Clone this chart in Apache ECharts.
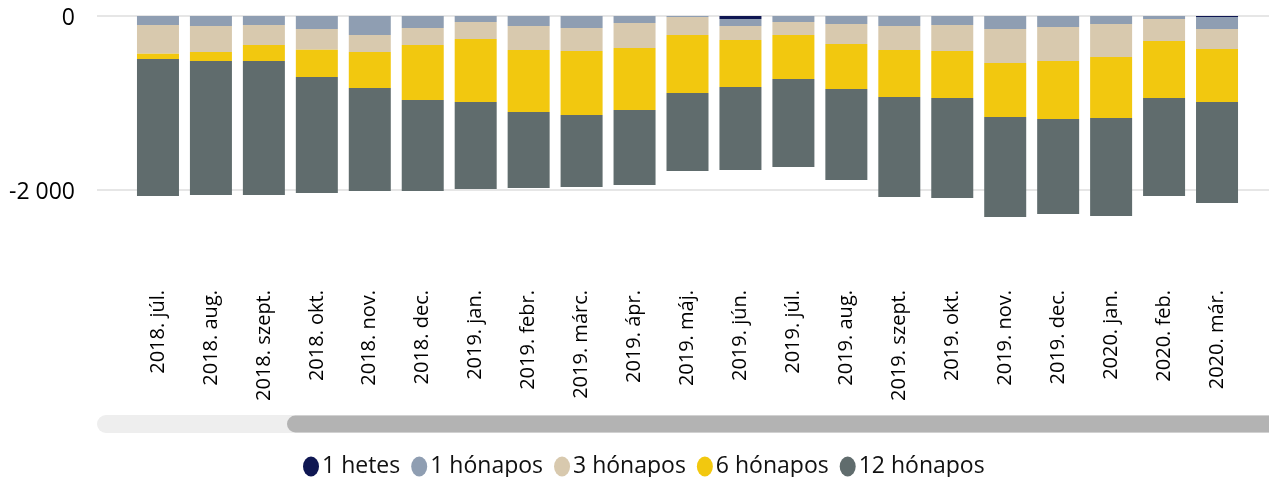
<!DOCTYPE html>
<html><head><meta charset="utf-8">
<script src="https://cdn.jsdelivr.net/npm/echarts@6/dist/echarts.min.js"></script>
<style>html,body{margin:0;padding:0;background:#fff}#c{width:1269px;height:477px}</style>
</head><body><div id="c"></div>
<script>
const categories = ['2018. júl.','2018. aug.','2018. szept.','2018. okt.','2018. nov.','2018. dec.','2019. jan.','2019. febr.','2019. márc.','2019. ápr.','2019. máj.','2019. jún.','2019. júl.','2019. aug.','2019. szept.','2019. okt.','2019. nov.','2019. dec.','2020. jan.','2020. feb.','2020. már.'];
const seriesNames = ['1 hetes','1 hónapos','3 hónapos','6 hónapos','12 hónapos'];
const week1   = [0,0,0,0,0,0,0,0,0,0,0,-34,0,0,0,0,0,0,0,0,-12];
const month1  = [-103,-115,-103,-149,-218,-138,-69,-115,-138,-80,-11,-80,-69,-92,-115,-103,-149,-126,-92,-34,-138];
const month3  = [-330,-299,-230,-238,-195,-195,-195,-276,-264,-287,-207,-161,-149,-230,-276,-299,-391,-391,-379,-253,-230];
const month6  = [-61,-103,-184,-314,-414,-632,-724,-713,-736,-713,-667,-540,-506,-517,-540,-540,-621,-667,-701,-655,-609];
const month12 = [-1575,-1540,-1540,-1333,-1184,-1046,-1000,-873,-828,-862,-897,-954,-1011,-1046,-1149,-1149,-1150,-1093,-1127,-1126,-1161];
const yTicks = [-2000, 0];
const colors = ['#0f1752','#8f9eb2','#d8c9ae','#f2c80f','#606c6d'];

const FONT = '"Open Sans", sans-serif';
const pxPerUnit = 174 / 2000;
const barGridHeight = 266;
const seriesData = [week1, month1, month3, month6, month12];

const chart = echarts.init(document.getElementById('c'), null, {renderer:'canvas'});
chart.setOption({
  animation: false,
  textStyle: {fontFamily: FONT},
  grid: [
    {left: 97, right: 0, top: 16, height: 174},
    {left: 131.5, right: 25.5, top: 16, height: barGridHeight}
  ],
  xAxis: [
    {gridIndex: 0, type: 'category', show: false, data: ['']},
    {gridIndex: 1, type: 'category', data: categories,
     axisLine: {show: false}, axisTick: {show: false},
     axisLabel: {rotate: 90, interval: 0, margin: 8, fontSize: 20, color: '#000', fontFamily: FONT}}
  ],
  yAxis: [
    {gridIndex: 0, type: 'value', min: yTicks[0], max: yTicks[1], interval: 2000,
     axisLine: {show: false}, axisTick: {show: false},
     splitLine: {lineStyle: {color: '#e6e6e6', width: 2}},
     axisLabel: {margin: 22,
       formatter: v => '{a|' + String(v).replace(/\B(?=(\d{3})+(?!\d))/g, ' ') + '}',
       rich: {a: {fontSize: 23, color: '#000', fontFamily: FONT, padding: [5, 0, 0, 0]}}}},
    {gridIndex: 1, type: 'value', min: -barGridHeight / pxPerUnit, max: 0, show: false, splitLine: {show: false}}
  ],
  legend: {
    data: seriesNames,
    icon: 'path://M50,0 A50,50 0 1,1 50,100 A50,50 0 1,1 50,0 Z',
    symbolKeepAspect: false,
    itemWidth: 16, itemHeight: 20, itemGap: 11,
    left: 298, top: 450,
    textStyle: {fontSize: 23, color: '#111', fontFamily: FONT, padding: [0, 0, 0, -2]}
  },
  graphic: [
    {type: 'rect', shape: {x: 97, y: 415, width: 1250, height: 18, r: 9}, style: {fill: '#eeeeee'}, silent: true},
    {type: 'rect', shape: {x: 287, y: 415.5, width: 1060, height: 17, r: 8.5}, style: {fill: '#b3b3b3'}, silent: true}
  ],
  series: seriesNames.map((name, i) => ({
    name, type: 'bar', stack: 'total', xAxisIndex: 1, yAxisIndex: 1,
    barWidth: 42, itemStyle: {color: colors[i]}, data: seriesData[i]
  })),
  color: colors
});
</script></body></html>
